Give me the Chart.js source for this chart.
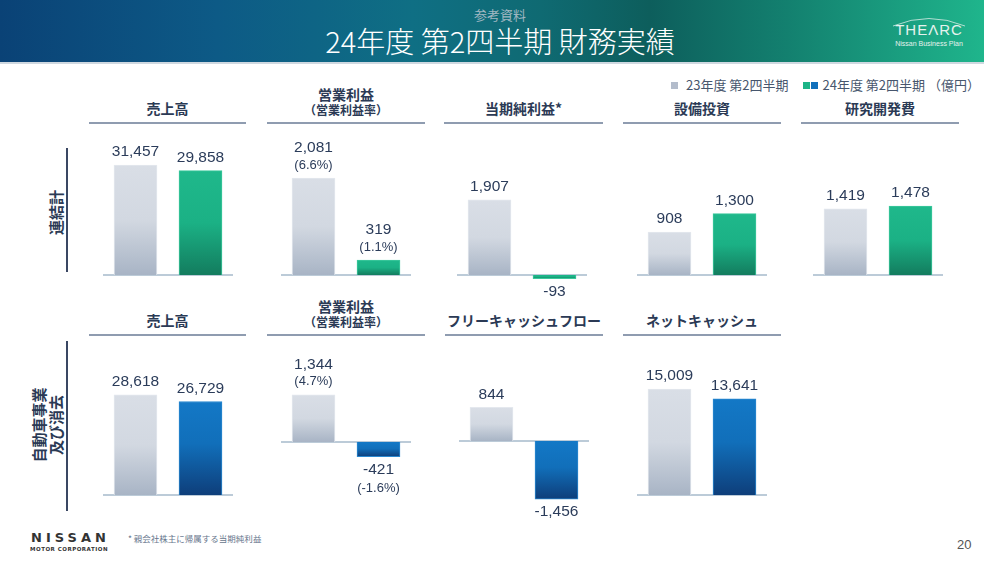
<!DOCTYPE html>
<html lang="ja">
<head>
<meta charset="utf-8">
<script src="https://cdn.jsdelivr.net/npm/chart.js@4.4.1/dist/chart.umd.min.js"></script>
<style>
  body { margin: 0; }
  #slide { position: relative; width: 984px; height: 564px; background: #fff; overflow: hidden;
    font-family: 'Noto Sans CJK JP', 'Noto Sans', sans-serif; color: #2b3a55; }
  #band { position: absolute; left: 0; top: 0; width: 984px; height: 62px;
    background: linear-gradient(90deg, #0a4276 0%, #0d5a86 22%, #0f6f84 42%, #0f6a72 55%, #0d5e5c 66%, #13806f 80%, #1fb58c 100%);
    border-bottom: 2px solid #cfd8e0; }
  #sub { position: absolute; left: 400px; width: 200px; top: 5px; text-align: center; font-size: 13px; color: #9fb7c2; }
  #title { position: absolute; left: 250px; width: 500px; top: 21px; text-align: center; font-size: 29px; color: #fff;
    font-weight: 300; line-height: 38px; }
  #logo { position: absolute; left: 886px; top: 14px; width: 86px; color: #e6f2ee; text-align: center; }
  #logo svg { position: absolute; left: 0; top: 0; }
  #logo .big { position: relative; font-family: 'Liberation Sans', sans-serif; font-size: 15px; letter-spacing: 1px; line-height: 20px; padding-top: 6px; }
  #logo .small { font-family: 'Liberation Sans', sans-serif; font-size: 7px; line-height: 8px; }
  #legend { position: absolute; left: 671px; top: 76px; font-size: 13px; line-height: 18px; color: #47566d; white-space: nowrap; }
  #legend i { display: inline-block; width: 7px; height: 7px; vertical-align: 1px; }
  .hd { position: absolute; height: 38px; border-bottom: 2px solid #8f9cb0; box-sizing: border-box;
    display: flex; flex-direction: column; justify-content: flex-end; padding-bottom: 5px;
    text-align: center; font-weight: bold; font-size: 14px; line-height: 18px; color: #2b3a55; }
  .hd .sm { font-size: 12px; line-height: 15px; }
  .hd .lg { line-height: 16px; }
  .side { position: absolute; width: 2px; background: #3a4763; }
  .rot { position: absolute; transform: rotate(-90deg); transform-origin: center; text-align: center;
    font-weight: bold; font-size: 15px; line-height: 17px; color: #2b3a55; white-space: nowrap; }
  .chart { position: absolute; width: 130px; }
  #nissan { position: absolute; left: 26px; top: 531px; width: 86px; text-align: center; color: #333; }
  #nissan .n { font-family: 'DejaVu Sans', sans-serif; font-weight: bold; font-size: 13px; letter-spacing: 4px; line-height: 14px; padding-left: 3px; }
  #nissan .m { font-family: 'DejaVu Sans', sans-serif; font-weight: bold; font-size: 5.5px; line-height: 8px; letter-spacing: 0.5px; }
  #note { position: absolute; left: 128px; top: 532px; font-size: 8.5px; color: #66758c; }
  #page { position: absolute; left: 957px; top: 537px; font-size: 13px; color: #555; font-family: 'Liberation Sans', sans-serif; }
</style>
</head>
<body>
<div id="slide">
  <div id="band">
    <div id="sub">参考資料</div>
    <div id="title">24年度 第2四半期 財務実績</div>
    <div id="logo">
      <svg width="86" height="24"><path d="M7 12 Q43 -3 79 12" fill="none" stroke="#d8ece6" stroke-width="0.8"/></svg>
      <div class="big">THEΛRC</div><div class="small">Nissan Business Plan</div>
    </div>
  </div>
  <div id="legend"></div>
  <div id="headers"></div>

  <div class="side" style="left:66px; top:148px; height:124px;"></div>
  <div class="rot" style="left:25px; top:204px; width:60px;">連結計</div>
  <div class="side" style="left:66px; top:341px; height:170px;"></div>
  <div class="rot" style="left:5px; top:408px; width:84px;">自動車事業<br>及び消去</div>

  <div id="charts"></div>

  <div id="nissan"><div class="n">NISSAN</div><div class="m">MOTOR CORPORATION</div></div>
  <div id="note">* 親会社株主に帰属する当期純利益</div>
  <div id="page">20</div>
</div>

<script>
// periods (legend)
const periods = ['23年度 第2四半期', '24年度 第2四半期'];
const unitLabel = '（億円）';

// 連結計
const salesTotal = [31457, 29858];
const opTotal = [2081, 319];
const opMarginTotal = [6.6, 1.1];
const netIncomeTotal = [1907, -93];
const capexTotal = [908, 1300];
const rndTotal = [1419, 1478];

// 自動車事業 及び消去
const salesAuto = [28618, 26729];
const opAuto = [1344, -421];
const opMarginAuto = [4.7, -1.6];
const fcfAuto = [844, -1456];
const netCashAuto = [15009, 13641];

const GRAY = [[0, '#d9dee6'], [0.5, '#d2d8e1'], [1, '#a8b4c5']];
const GREEN = [[0, '#1fb88b'], [0.5, '#1bb185'], [1, '#137c5e']];
const BLUE = [[0, '#1378c6'], [0.45, '#116fba'], [1, '#0e3e7a']];

document.getElementById('legend').innerHTML =
  '<i style="background:#b3bccb;margin-right:8px"></i>' + periods[0] +
  '<i style="background:#1db487;margin-left:14px;margin-right:1px"></i><i style="background:#1170bb;margin-right:2px"></i> ' +
  periods[1] + ' ' + unitLabel;

// headers: text, left, width, top
const headers = [
  ['売上高', 89, 157, 86],
  ['営業利益|（営業利益率）', 267, 158, 86],
  ['当期純利益*', 444, 159, 86],
  ['設備投資', 623, 158, 86],
  ['研究開発費', 801, 158, 86],
  ['売上高', 89, 157, 298],
  ['営業利益|（営業利益率）', 267, 158, 298],
  ['フリーキャッシュフロー', 445, 158, 298],
  ['ネットキャッシュ', 623, 158, 298],
];
document.getElementById('headers').innerHTML = headers.map(h => {
  const parts = h[0].split('|');
  const inner = parts.length > 1
    ? '<div class="lg">' + parts[0] + '</div><div class="sm">' + parts[1] + '</div>'
    : '<div>' + parts[0] + '</div>';
  return '<div class="hd" style="left:' + h[1] + 'px;width:' + h[2] + 'px;top:' + h[3] + 'px">' + inner + '</div>';
}).join('');

function barFill(stops) {
  return (c) => {
    const chart = c.chart;
    if (!chart.chartArea) return stops[0][1];
    const y = chart.scales.y;
    const v = c.raw;
    const g = chart.ctx.createLinearGradient(0, y.getPixelForValue(Math.max(v, 0)), 0, y.getPixelForValue(Math.min(v, 0)));
    stops.forEach(s => g.addColorStop(s[0], s[1]));
    return g;
  };
}

const baseline = {
  id: 'baseline',
  beforeDatasetsDraw(chart) {
    const ctx = chart.ctx, y0 = chart.scales.y.getPixelForValue(0);
    ctx.save();
    ctx.strokeStyle = '#bccbd8';
    ctx.lineWidth = 2;
    ctx.beginPath();
    ctx.moveTo(chart.chartArea.left, y0);
    ctx.lineTo(chart.chartArea.right, y0);
    ctx.stroke();
    ctx.restore();
  }
};

const valueLabels = {
  id: 'valueLabels',
  afterDatasetsDraw(chart) {
    const ctx = chart.ctx;
    const ds = chart.data.datasets[0];
    chart.getDatasetMeta(0).data.forEach((bar, i) => {
      const v = ds.data[i];
      const txt = v.toLocaleString('en-US');
      const pct = ds.margins ? '(' + ds.margins[i].toFixed(1) + '%)' : null;
      ctx.save();
      ctx.fillStyle = '#2b3c5a';
      ctx.textAlign = 'center';
      ctx.textBaseline = 'middle';
      if (v >= 0) {
        let y = bar.y - 13;
        if (pct) {
          ctx.font = '13px "Liberation Sans", Arial, sans-serif';
          ctx.fillText(pct, bar.x, y);
          y -= 17;
        }
        ctx.font = '15.5px "Liberation Sans", Arial, sans-serif';
        ctx.fillText(txt, bar.x, y);
      } else {
        let y = bar.y + 13;
        ctx.font = '15.5px "Liberation Sans", Arial, sans-serif';
        ctx.fillText(txt, bar.x, y);
        if (pct) {
          ctx.font = '13px "Liberation Sans", Arial, sans-serif';
          ctx.fillText(pct, bar.x, y + 19);
        }
      }
      ctx.restore();
    });
  }
};

// values, margins, accent, left, top, height, yMin, yMax
const charts = [
  [salesTotal, null, GREEN, 103, 138, 160, -6580, 39180],
  [opTotal, opMarginTotal, GREEN, 281, 138, 160, -493, 2939],
  [netIncomeTotal, null, GREEN, 457, 138, 160, -584, 3480],
  [capexTotal, null, GREEN, 637, 138, 160, -488, 2904],
  [rndTotal, null, GREEN, 813, 138, 160, -493, 2939],
  [salesAuto, null, BLUE, 103, 345, 180, -8580, 42900],
  [opAuto, opMarginAuto, BLUE, 281, 345, 180, -2366, 2765],
  [fcfAuto, null, BLUE, 459, 345, 180, -2104, 2405],
  [netCashAuto, null, BLUE, 637, 345, 180, -4254, 21270],
];

const holder = document.getElementById('charts');
charts.forEach((c) => {
  const [values, margins, accent, left, top, height, yMin, yMax] = c;
  const box = document.createElement('div');
  box.className = 'chart';
  box.style.left = left + 'px';
  box.style.top = top + 'px';
  box.style.height = height + 'px';
  const cv = document.createElement('canvas');
  box.appendChild(cv);
  holder.appendChild(box);
  new Chart(cv, {
    type: 'bar',
    data: {
      labels: periods,
      datasets: [{
        data: values,
        margins: margins,
        backgroundColor: (ctx) => barFill(ctx.dataIndex === 0 ? GRAY : accent)(ctx),
        borderColor: (ctx) => ctx.dataIndex === 0 ? '#e4e8ee' : (accent === GREEN ? '#3cc89c' : '#2a88d0'),
        borderWidth: 1,
        barThickness: 43,
      }],
    },
    options: {
      responsive: true,
      maintainAspectRatio: false,
      animation: false,
      layout: { padding: 0 },
      plugins: { legend: { display: false }, tooltip: { enabled: false } },
      scales: {
        x: { display: false },
        y: { display: false, min: yMin, max: yMax },
      },
    },
    plugins: [baseline, valueLabels],
  });
});
</script>
</body>
</html>
